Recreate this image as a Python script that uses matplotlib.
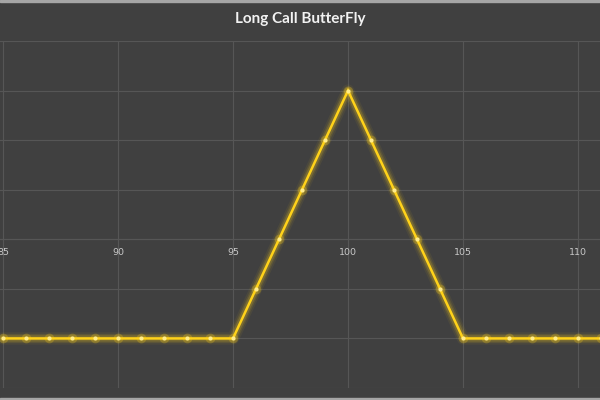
import numpy as np
import matplotlib
matplotlib.use("Agg")
import matplotlib.pyplot as plt

# underlying price at expiry and payoff of the long call butterfly (95/100/105, debit 2)
prices = [85, 86, 87, 88, 89, 90, 91, 92, 93, 94, 95, 96, 97, 98, 99, 100,
          101, 102, 103, 104, 105, 106, 107, 108, 109, 110, 111]
payoff = [-2, -2, -2, -2, -2, -2, -2, -2, -2, -2, -2, -1, 0, 1, 2, 3,
          2, 1, 0, -1, -2, -2, -2, -2, -2, -2, -2]
xticks = [85, 90, 95, 100, 105, 110]

BG = "#404040"
GRID = "#565656"
GOLD = "#ffd21a"

fig = plt.figure(figsize=(6, 4), dpi=100, facecolor=BG)
# thin light strips at the top and bottom edge of the screenshot
fig.patches.append(plt.Rectangle((0, 0.995), 1, 0.005, transform=fig.transFigure,
                                 color="#a6a6a6", zorder=10))
fig.patches.append(plt.Rectangle((0, 0), 1, 0.006, transform=fig.transFigure,
                                 color="#a6a6a6", zorder=10))

ax = fig.add_axes([0, 0.03, 1, 0.8675], facecolor=BG)
ax.set_xlim(85 - 3 / 23, 85 + 597 / 23)
ax.set_ylim(-3, 4)
ax.set_xticks(xticks)
ax.set_yticks(range(-3, 5))
ax.grid(True, color=GRID, lw=0.8)
ax.set_axisbelow(True)
for s in ["top", "right", "left"]:
    ax.spines[s].set_visible(False)
ax.spines["bottom"].set_position(("data", 0))
ax.spines["bottom"].set_color(GRID)
ax.tick_params(axis="x", length=0, pad=6, labelsize=6.8, labelcolor="#c8c8c8")
ax.tick_params(axis="y", length=0, labelleft=False)

# glow
for lw, a in [(9, 0.06), (6.5, 0.1), (4.5, 0.18)]:
    ax.plot(prices, payoff, color=GOLD, lw=lw, alpha=a, solid_capstyle="round",
            solid_joinstyle="round", zorder=3)
ax.plot(prices, payoff, color=GOLD, lw=1.8, zorder=4, solid_joinstyle="miter")
ax.plot(prices, payoff, ls="none", marker="o", ms=3, mfc="#ffec8a",
        mec="none", zorder=5)
ax.plot(prices, payoff, ls="none", marker="o", ms=7, mfc=GOLD, alpha=0.25,
        mec="none", zorder=4)

fig.text(0.5, 0.953, "Long Call ButterFly", ha="center", va="center",
         color="#f2f2f2", fontsize=11, fontweight="bold", family="Lato")

fig.savefig("out.png", dpi=100, facecolor=BG)
